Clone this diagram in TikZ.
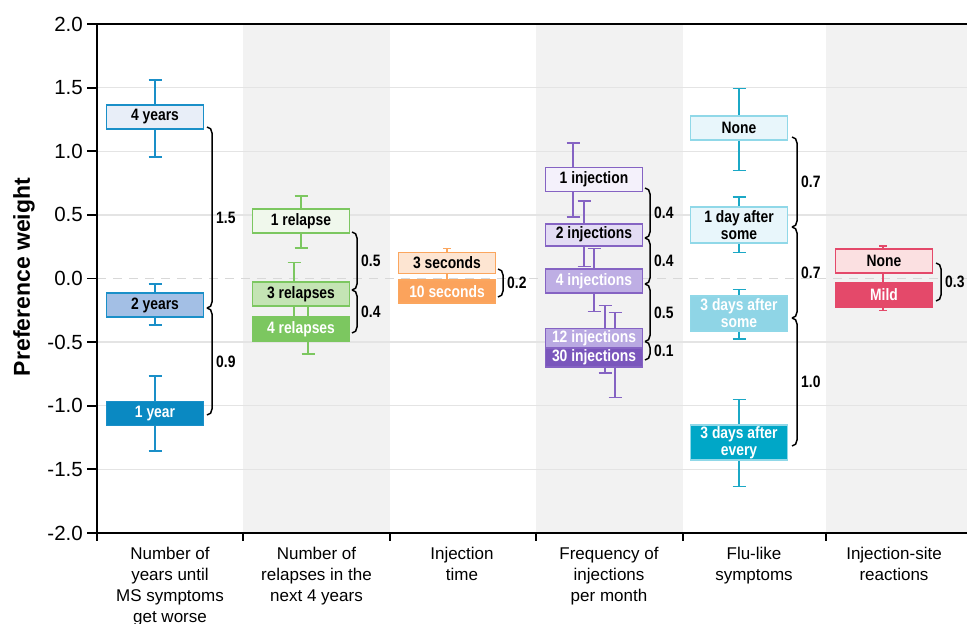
\documentclass[tikz,border=0pt]{standalone}
\usepackage{fontspec}
\setmainfont{Liberation Sans}
\newfontfamily\nf{Liberation Sans}[FakeStretch=0.84]
\usetikzlibrary{calc}
\definecolor{band}{HTML}{F2F2F2}
\definecolor{gridc}{HTML}{E4E4E4}
\definecolor{zeroc}{HTML}{D8D8D8}
\definecolor{ca}{HTML}{1A8FC8}
\definecolor{caA}{HTML}{E8EEF8}
\definecolor{caB}{HTML}{A3BFE5}
\definecolor{caC}{HTML}{0A89C2}
\definecolor{cb}{HTML}{7CC760}
\definecolor{cbA}{HTML}{F0F8EC}
\definecolor{cbB}{HTML}{C4E4B4}
\definecolor{cbC}{HTML}{7CC760}
\definecolor{cc}{HTML}{FBA65E}
\definecolor{ccA}{HTML}{FDE5D2}
\definecolor{ccB}{HTML}{FBA35C}
\definecolor{cd}{HTML}{8563C3}
\definecolor{cdA}{HTML}{F4F1FB}
\definecolor{cdB}{HTML}{E3DCF4}
\definecolor{cdC}{HTML}{BEAEE4}
\definecolor{cdD}{HTML}{B9A9E2}
\definecolor{cdE}{HTML}{7A56BC}
\definecolor{ce}{HTML}{90D8E8}
\definecolor{ceBar}{HTML}{1BA8C6}
\definecolor{ceA}{HTML}{E8F6FB}
\definecolor{ceB}{HTML}{8FD5E6}
\definecolor{ceC}{HTML}{00A7C7}
\definecolor{cf}{HTML}{E4496A}
\definecolor{cfA}{HTML}{FBE0E1}
\definecolor{cfB}{HTML}{E4496A}
\newcommand\ebar[4]{\draw[eb,#4] (#1-6.5,#2) -- (#1+6.5,#2) (#1,#2) -- (#1,#3) (#1-6.5,#3) -- (#1+6.5,#3);}
\newcommand\bracketmark[5]{%
  \coordinate (#5a) at (#1-5,#2);
  \coordinate (#5b) at (#1-5,#3);
  \draw[brk] (#5a) to[out=0,in=90] ($(#5a)+(5,6)$) -- ($(#5b)+(5,-6)$) to[out=-90,in=0] (#5b);
  \node[blab] (#5l) at (#1+4,{(#2+#3)/2}) {#4};}
\begin{document}
\begin{tikzpicture}[x=1pt,y=-1pt,
  lvl/.style={draw, line width=1.8pt, minimum width=97pt, minimum height=24pt, inner sep=0pt,
    font=\nf\bfseries\fontsize{16.5}{17.5}\selectfont, align=center},
  eb/.style={line width=1.8pt},
  brk/.style={line width=1.5pt, black},
  blab/.style={font=\nf\bfseries\fontsize{16.5}{18}\selectfont, anchor=west, inner sep=0pt},
  tlab/.style={font=\fontsize{20.5}{24}\selectfont, anchor=east, inner sep=0pt},
  cat/.style={font=\fontsize{17}{21}\selectfont, anchor=north, align=center, inner sep=0pt}]
\useasboundingbox (0,0) rectangle (967,624);
% bands
\fill[band] (243,24) rectangle (390,533);
\fill[band] (536,24) rectangle (683,533);
\fill[band] (826,24) rectangle (967,533);
% grid
\foreach \v in {1.5,1,0.5,-0.5,-1,-1.5}
  \draw[gridc, line width=1.4pt] (97,{278.5-127.25*\v}) -- (967,{278.5-127.25*\v});
\draw[zeroc, line width=1.4pt, dash pattern=on 9pt off 7pt] (97,278.5) -- (967,278.5);
% axes
\draw[line width=2pt] (967,24) -- (97,24) -- (97,541);
\draw[line width=2pt] (96,533) -- (967,533);
\foreach \xx in {243,390,536,683,826}
  \draw[line width=1.5pt] (\xx,533) -- (\xx,541);
\foreach \v/\t in {2/2.0,1.5/1.5,1/1.0,0.5/0.5,0/0.0,-0.5/-0.5,-1/-1.0,-1.5/-1.5,-2/-2.0}{
  \draw[line width=1.8pt] (87,{278.5-127.25*\v}) -- (97,{278.5-127.25*\v});
  \node[tlab] at (83,{278.5-127.25*\v}) {\t};}
\node[rotate=90, font=\bfseries\fontsize{23}{26}\selectfont, inner sep=0pt] (ylab) at (24,277) {Preference weight};
% category labels
\node[cat] (k1) at (170,547) {Number of\\years until\\MS symptoms\\get worse};
\node[cat] (k2) at (316.5,547) {Number of\\relapses in the\\next 4 years};
\node[cat] (k3) at (462,547) {Injection\\time};
\node[cat] (k4) at (609,547) {Frequency of\\injections\\per month};
\node[cat] (k5) at (754,547) {Flu-like\\symptoms};
\node[cat] (k6) at (894,547) {Injection-site\\reactions};
% error bars
\ebar{155}{80}{157}{ca}
\ebar{155}{284}{325}{ca}
\ebar{155}{376}{451}{ca}
\ebar{301}{196}{248}{cb}
\ebar{294}{262.5}{325}{cb}
\ebar{308}{300}{354}{cb}
\draw[eb,cc] (447,248.5) -- (447,300);
\draw[eb,cc] (443,248.5) -- (451,248.5);
\ebar{573}{143}{217}{cd}
\ebar{584}{201}{266.5}{cd}
\ebar{594}{248.5}{311.5}{cd}
\ebar{605}{305.5}{373}{cd}
\ebar{615}{312.5}{397.5}{cd}
\ebar{739}{88.5}{170.5}{ceBar}
\ebar{739}{197}{252.5}{ceBar}
\ebar{739}{289.5}{339}{ceBar}
\ebar{739}{399.5}{486.5}{ceBar}
\draw[eb,cf] (883,246) -- (883,310.5);
\draw[eb,cf] (879,246) -- (887,246) (879,310.5) -- (887,310.5);
% boxes column 1
\node[lvl, draw=ca, fill=caA, text=black] (a1) at (155,117) {4 years};
\node[lvl, draw=ca, fill=caB, text=black] (a2) at (155,305) {2 years};
\node[lvl, draw=ca, fill=caC, text=white] (a3) at (155,413.5) {1 year};
% column 2
\node[lvl, draw=cb, fill=cbA, text=black] (b1) at (301,221) {1 relapse};
\node[lvl, draw=cb, fill=cbB, text=black] (b2) at (301,294) {3 relapses};
\node[lvl, draw=cb, fill=cbC, text=white] (b3) at (301,329) {4 relapses};
% column 3
\node[lvl, draw=cc, fill=ccA, text=black, minimum height=21pt] (c1) at (447,263) {3 seconds};
\node[lvl, draw=cc, fill=ccB, text=white, minimum height=23pt] (c2) at (447,291.7) {10 seconds};
% column 4
\node[lvl, draw=cd, fill=cdA, text=black] (d1) at (594,179.5) {1 injection};
\node[lvl, draw=cd, fill=cdB, text=black, minimum height=22pt] (d2) at (594,234.7) {2 injections};
\node[lvl, draw=cd, fill=cdC, text=white] (d3) at (594,280.8) {4 injections};
\node[lvl, draw=cd, fill=cdD, text=white, minimum height=19pt] (d4) at (594,338) {12 injections};
\node[lvl, draw=cd, fill=cdE, text=white, minimum height=19pt] (d5) at (594,357.2) {30 injections};
% column 5
\node[lvl, draw=ce, fill=ceA, text=black] (e1) at (739,128.3) {None};
\node[lvl, draw=ce, fill=ceA, text=black, minimum height=36pt] (e2) at (739,225) {1 day after\\some};
\node[lvl, draw=ce, fill=ceB, text=white, minimum height=35pt] (e3) at (739,313.3) {3 days after\\some};
\node[lvl, draw=ce, fill=ceC, text=white, minimum height=34.5pt] (e4) at (739,442.5) {3 days after\\every};
% column 6
\node[lvl, draw=cf, fill=cfA, text=black] (f1) at (884,261) {None};
\node[lvl, draw=cf, fill=cfB, text=white] (f2) at (884,295) {Mild};
% brackets
\bracketmark{212}{127}{308}{1.5}{ra}
\bracketmark{212}{308}{415}{0.9}{rb}
\bracketmark{357}{232}{290}{0.5}{rc}
\bracketmark{357}{290}{333}{0.4}{rd}
\bracketmark{503}{269}{297}{0.2}{re}
\bracketmark{650}{188}{238}{0.4}{rf}
\bracketmark{650}{238}{284}{0.4}{rg}
\bracketmark{650}{284}{341.5}{0.5}{rh}
\bracketmark{650}{341.5}{360}{0.1}{ri}
\bracketmark{797}{137}{227}{0.7}{rj}
\bracketmark{797}{227}{318}{0.7}{rk}
\bracketmark{797}{318}{446}{1.0}{rl}
\bracketmark{941}{263}{301}{0.3}{rm}
\end{tikzpicture}
\end{document}
